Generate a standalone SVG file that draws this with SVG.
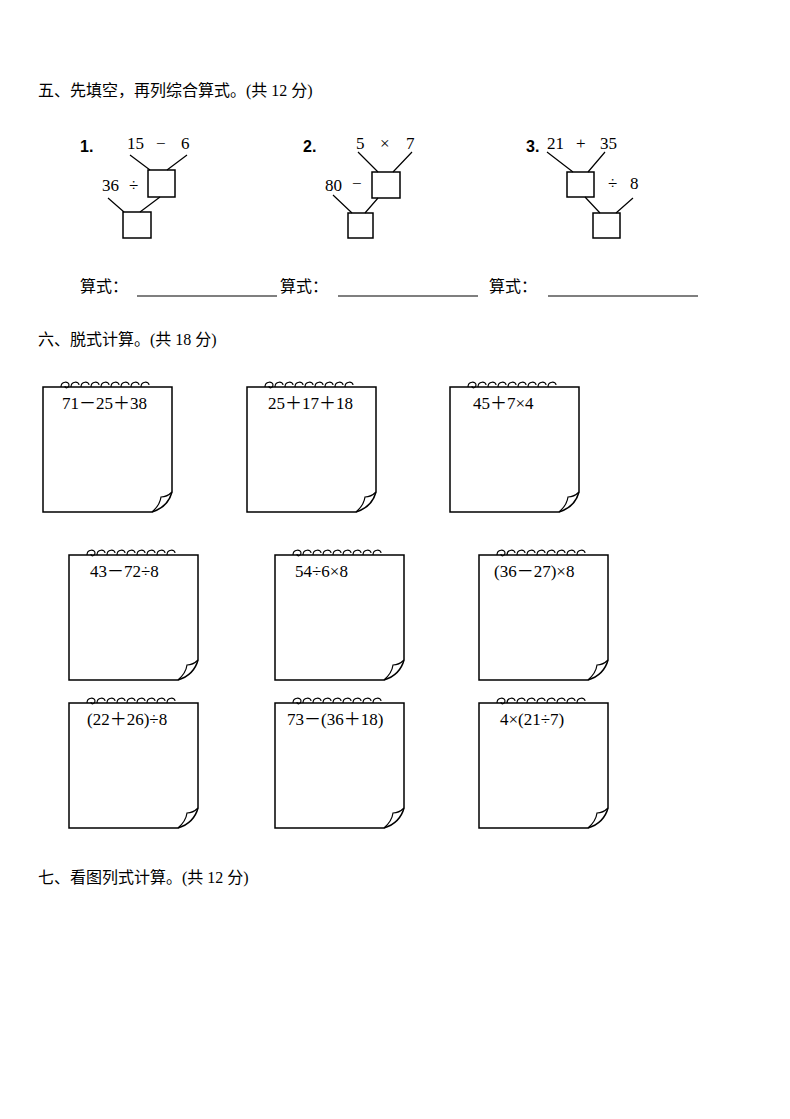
<svg xmlns="http://www.w3.org/2000/svg" width="790" height="1119" viewBox="0 0 790 1119" xml:space="preserve">
<style>
.h{font-family:"Liberation Serif","Noto Sans CJK SC",serif;font-size:16px;fill:#000}
.n{font-family:"Liberation Serif",serif;font-size:17px;fill:#000;white-space:pre}
.b{font-family:"Liberation Sans",sans-serif;font-size:16px;font-weight:bold}
.e{font-family:"Liberation Serif","Noto Sans CJK SC",serif;font-size:17px}
.s{fill:#fff;stroke:#000;stroke-width:1.5}
.l{stroke:#000;stroke-width:1.2;fill:none}
</style>
<defs>
<g id="pad">
<path class="s" d="M0,0 H129 V105 Q125,120 109,125 H0 Z"/>
<path class="l" d="M109,125 Q117,118 118,110 Q124,110 129,105"/>
<path class="l" stroke-width="1" d="M18,0 c0,-6 8,-6 8,-2 M28,0 c0,-6 8,-6 8,-2 M38,0 c0,-6 8,-6 8,-2 M48,0 c0,-6 8,-6 8,-2 M58,0 c0,-6 8,-6 8,-2 M68,0 c0,-6 8,-6 8,-2 M78,0 c0,-6 8,-6 8,-2 M88,0 c0,-6 8,-6 8,-2 M98,0 c0,-6 8,-6 8,-2 M26,-2 c0,3 -4,4 -4,1"/>
</g>
</defs>
<text class="h" x="38" y="96">五、先填空，再列综合算式。(共 12 分)</text>
<g id="tree1">
<text class="b" x="80" y="152">1.</text>
<text class="n" x="127" y="149">15</text><text class="n" x="156" y="149">−</text><text class="n" x="181" y="149">6</text>
<text class="n" x="102" y="191">36</text><text class="n" x="129" y="191">÷</text>
<rect class="s" x="148" y="170" width="27" height="27"/>
<rect class="s" x="123" y="212" width="28" height="26"/>
<path class="l" d="M130,155 L150,170 M187,155 L167,170 M108,198 L124,212 M160,197 L140,212"/>
</g>
<g id="tree2">
<text class="b" x="303" y="152">2.</text>
<text class="n" x="356" y="149">5</text><text class="n" x="380" y="149">×</text><text class="n" x="406" y="149">7</text>
<text class="n" x="325" y="191">80</text><text class="n" x="352" y="189">−</text>
<rect class="s" x="372" y="172" width="28" height="26"/>
<rect class="s" x="348" y="213" width="25" height="25"/>
<path class="l" d="M358,152 L378,172 M412,152 L393,172 M333,195 L352,213 M378,198 L365,213"/>
</g>
<g id="tree3">
<text class="b" x="526" y="152">3.</text>
<text class="n" x="547" y="149">21</text><text class="n" x="576" y="149">+</text><text class="n" x="600" y="149">35</text>
<text class="n" x="608" y="189">÷</text><text class="n" x="630" y="189">8</text>
<rect class="s" x="567" y="172" width="27" height="25"/>
<rect class="s" x="593" y="213" width="27" height="25"/>
<path class="l" d="M547,152 L573,172 M605,152 L588,172 M585,197 L600,213 M633,198 L616,213"/>
</g>
<g id="formulas">
<text class="h" x="80" y="292">算式：</text>
<text class="h" x="280" y="292">算式：</text>
<text class="h" x="489" y="292">算式：</text>
<path class="l" d="M137,296 H277 M338,296 H478 M548,296 H698"/>
</g>
<text class="h" x="38" y="345">六、脱式计算。(共 18 分)</text>
<g id="p1"><use href="#pad" x="43" y="387"/><text class="e" x="62" y="409">71－25＋38</text></g>
<g id="p2"><use href="#pad" x="247" y="387"/><text class="e" x="268" y="409">25＋17＋18</text></g>
<g id="p3"><use href="#pad" x="450" y="387"/><text class="e" x="473" y="409">45＋7×4</text></g>
<g id="p4"><use href="#pad" x="69" y="555"/><text class="e" x="90" y="577">43－72÷8</text></g>
<g id="p5"><use href="#pad" x="275" y="555"/><text class="e" x="295" y="577">54÷6×8</text></g>
<g id="p6"><use href="#pad" x="479" y="555"/><text class="e" x="494" y="577">(36－27)×8</text></g>
<g id="p7"><use href="#pad" x="69" y="703"/><text class="e" x="87" y="725">(22＋26)÷8</text></g>
<g id="p8"><use href="#pad" x="275" y="703"/><text class="e" x="287" y="725">73－(36＋18)</text></g>
<g id="p9"><use href="#pad" x="479" y="703"/><text class="e" x="500" y="725">4×(21÷7)</text></g>
<text class="h" x="38" y="883">七、看图列式计算。(共 12 分)</text>
</svg>
